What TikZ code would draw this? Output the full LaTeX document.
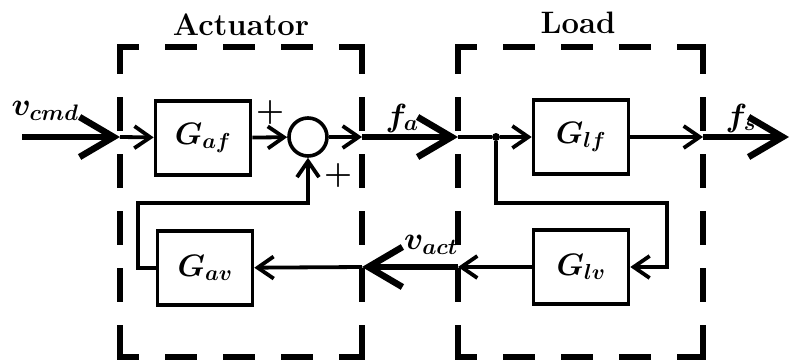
\RequirePackage{fix-cm}
\documentclass[tikz,border=0pt]{standalone}
\usetikzlibrary{arrows.meta}

\tikzset{
  block/.style={draw, line width=3.6pt, minimum width=95pt, minimum height=74pt, inner sep=0pt,
    font=\fontsize{31}{33}\selectfont\boldmath},
  sum/.style={draw, circle, line width=3.6pt, minimum size=38pt, inner sep=0pt},
  sig/.style={line width=3.8pt, -{Straight Barb[length=16pt, width=22pt]}},
  bigsig/.style={line width=6.5pt, -{Straight Barb[length=34pt, width=40pt]}},
  wire/.style={line width=3.8pt},
  frameside/.style={line width=5.5pt, line cap=rect},
  lbl/.style={font=\fontsize{32}{34}\selectfont\boldmath, inner sep=0pt},
  title/.style={font=\fontsize{31}{33}\selectfont\bfseries, inner sep=0pt}
}

% one dashed frame, corners drawn as L shapes
\newcommand{\dashframe}[4]{%
  \draw[frameside, dash pattern=on 26pt off 32pt, dash phase=10pt] (#1,#2) -- (#3,#2);
  \draw[frameside, dash pattern=on 26pt off 32pt, dash phase=10pt] (#1,#4) -- (#3,#4);
  \draw[frameside, dash pattern=on 28pt off 29pt, dash phase=4pt] (#1,#2) -- (#1,#4);
  \draw[frameside, dash pattern=on 28pt off 29pt, dash phase=4pt] (#3,#2) -- (#3,#4);
}

\begin{document}
\begin{tikzpicture}[x=1pt, y=-1pt]
  \useasboundingbox (0,0) rectangle (790,364);

  % Ramecky
  \dashframe{120}{47}{362}{357}
  \dashframe{458}{47}{703}{357}
  \node[title] (tact) at (241,25) {Actuator};
  \node[title] (tload) at (578,23) {Load};

  % Bloky
  \node[block] (Gaf) at (203,138) {$G_{af}$};
  \node[sum] (sum) at (308,137) {};
  \node[block] (Gav) at (205,268) {$G_{av}$};
  \node[block] (Glf) at (581,137) {$G_{lf}$};
  \node[block] (Glv) at (581,267) {$G_{lv}$};

  % Body
  \coordinate (in) at (22,137);
  \coordinate (aL) at (120,137);
  \coordinate (aR) at (362,137);
  \coordinate (lL) at (458,137);
  \coordinate (lR) at (703,137);
  \coordinate (out) at (789,137);
  \coordinate (fbR) at (362,267);
  \coordinate (fbL) at (458,267);
  \coordinate (lt) at (667,203);
  \coordinate (ab) at (138,203);
  \node[circle, fill, inner sep=0pt, minimum size=8pt] (split) at (496,137) {};

  % Dopredna vetev
  \draw[bigsig] (in) -- (aL);
  \draw[sig] (aL) -- (Gaf);
  \draw[sig] (Gaf) -- (sum);
  \draw[sig] (sum) -- (aR);
  \draw[bigsig] (aR) -- (lL);
  \draw[wire] (lL) -- (split);
  \draw[sig] (split) -- (Glf);
  \draw[sig] (Glf) -- (lR);
  \draw[bigsig] (lR) -- (out);

  % Zpetna vazba
  \draw[sig] (split) |- (lt) |- (Glv.east);
  \draw[sig] (Glv) -- (fbL);
  \draw[bigsig] (fbL) -- (fbR);
  \draw[sig] (fbR) -- (Gav);
  \draw[sig] (Gav.west) -| (ab) -| (sum.south);

  % Popisky
  \node[lbl] (vcmd) at (45,111) {$v_{cmd}$};
  \node[lbl] (fa) at (402,118) {$f_a$};
  \node[lbl] (fs) at (741,118) {$f_s$};
  \node[lbl] (vact) at (431,245) {$v_{act}$};
  \node[lbl] (ptop) at (270,112) {$+$};
  \node[lbl] (pbot) at (338,175) {$+$};
\end{tikzpicture}
\end{document}
